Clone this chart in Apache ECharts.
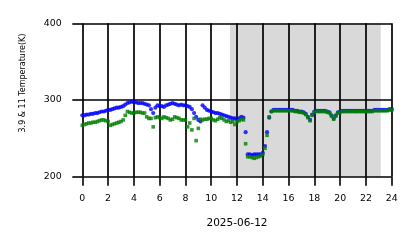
<!DOCTYPE html>
<html><head><meta charset="utf-8">
<script src="https://cdn.jsdelivr.net/npm/echarts@6/dist/echarts.min.js"></script>
<style>html,body{margin:0;padding:0;background:#fff}#c{width:418px;height:248px}</style>
</head><body><div id="c"></div>
<script>
var hours = [0,0.17,0.33,0.5,0.67,0.83,1,1.17,1.33,1.5,1.67,1.83,2,2.17,2.33,2.5,2.67,2.83,3,3.17,3.33,3.5,3.67,3.83,4,4.17,4.33,4.5,4.67,4.83,5,5.17,5.33,5.5,5.67,5.83,6,6.17,6.33,6.5,6.67,6.83,7,7.17,7.33,7.5,7.67,7.83,8,8.17,8.33,8.5,8.67,8.83,9,9.17,9.33,9.5,9.67,9.83,10,10.17,10.33,10.5,10.67,10.83,11,11.17,11.33,11.5,11.67,11.83,12,12.17,12.33,12.5,12.67,12.83,13,13.17,13.33,13.5,13.67,13.83,14,14.17,14.33,14.5,14.67,14.83,15,15.17,15.33,15.5,15.67,15.83,16,16.17,16.33,16.5,16.67,16.83,17,17.17,17.33,17.5,17.67,17.83,18,18.17,18.33,18.5,18.67,18.83,19,19.17,19.33,19.5,19.67,19.83,20,20.17,20.33,20.5,20.67,20.83,21,21.17,21.33,21.5,21.67,21.83,22,22.17,22.33,22.5,22.67,22.83,23,23.17,23.33,23.5,23.67,23.83,24];
var temp39 = [280,280,281,281,282,282, 283,283,284,285,285,286, 287,287,288,289,290,290, 291,292,294,296,297,298, 297,297,296,296,296,295, 294,293,288,283,290,293, 292,292,291,293,294,295, 296,295,294,293,294,293, 293,292,291,288,283,278, 274,272,293,290,287,286, 285,284,283,283,282,281, 280,279,278,277,276,276, 275,276,278,277,258,229, 229,228,229,229,229,229, 231,240,258,277,285,287, 287,287,287,287,287,287, 287,287,287,286,286,285, 285,284,282,278,274,281, 285,286,286,286,286,286, 285,284,280,276,280,284, 285,286,286,286,286,286, 286,286,286,286,286,286, 286,286,286,286,287,287, 287,287,287,287,287,288, 288];
var temp11 = [267,268,269,270,270,271, 271,272,273,274,274,273, 272,267,268,269,270,271, 272,274,280,285,284,283, 283,284,284,284,283,283, 278,276,276,265,277,278, 277,276,278,277,276,274, 275,278,277,276,274,274, 274,265,270,261,276,247, 263,275,274,275,275,276, 276,274,273,275,277,276, 274,272,273,271,272,268, 272,273,275,274,243,226, 226,225,224,225,226,227, 229,237,254,278,285,286, 286,286,286,286,286,286, 286,286,286,285,285,284, 284,283,281,277,273,280, 284,285,285,285,285,285, 284,283,279,275,279,283, 284,285,285,285,285,285, 285,285,285,285,285,285, 285,285,285,285,286,286, 286,286,286,286,286,287, 287];
var shadeRange = [11.45, 23.15];
var xTicks = [0,2,4,6,8,10,12,14,16,18,20,22,24];
var yTicks = [200,300,400];
var yName = '3.9 & 11 Temperature(K)';
var xName = '2025-06-12';

function pairs(v){ return hours.map(function(h,i){ return [h, v[i]]; }); }

var chart = echarts.init(document.getElementById('c'), null, {renderer:'canvas'});
var font = 'DejaVu Sans';
chart.setOption({
  animation:false,
  grid:{left:82.3, right:26.3, top:23.3, bottom:71.3},
  xAxis:{type:'value', zlevel:1, min:xTicks[0], max:xTicks[xTicks.length-1], interval:2,
    axisLine:{show:false},
    axisTick:{show:true, length:9, lineStyle:{color:'#000', width:1.6}},
    axisLabel:{color:'#000', fontFamily:font, fontSize:9.4, margin:17},
    splitLine:{show:true, lineStyle:{color:'#000', width:1.7}}},
  yAxis:{type:'value', zlevel:1, min:yTicks[0], max:yTicks[yTicks.length-1], interval:100,
    axisLine:{show:false},
    axisTick:{show:true, length:10, lineStyle:{color:'#000', width:1.6}},
    axisLabel:{color:'#000', fontFamily:font, fontSize:9.4, margin:20.6},
    splitLine:{show:true, lineStyle:{color:'#000', width:1.7}}},
  graphic:[
    {type:'text', zlevel:1, x:23, y:83, rotation:Math.PI/2, style:{text:yName, fill:'#000', font:'8px "DejaVu Sans"', textAlign:'center', textVerticalAlign:'middle'}},
    {type:'text', zlevel:1, x:237, y:223.3, style:{text:xName, fill:'#000', font:'10.5px "DejaVu Sans"', textAlign:'center', textVerticalAlign:'middle'}}
  ],
  series:[
    {type:'line', data:[], zlevel:0, silent:true,
      markArea:{silent:true, itemStyle:{color:'#d9d9d9'}, data:[[{xAxis:shadeRange[0]},{xAxis:shadeRange[1]}]]}},
    {type:'scatter', name:'3.9', zlevel:1, data:pairs(temp39), symbol:'circle', symbolSize:4.2, itemStyle:{color:'#0000ff'}, z:3},
    {type:'scatter', name:'11', zlevel:1, data:pairs(temp11), symbol:'rect', symbolSize:3.6, itemStyle:{color:'#008000'}, z:4}
  ]
});
</script></body></html>
